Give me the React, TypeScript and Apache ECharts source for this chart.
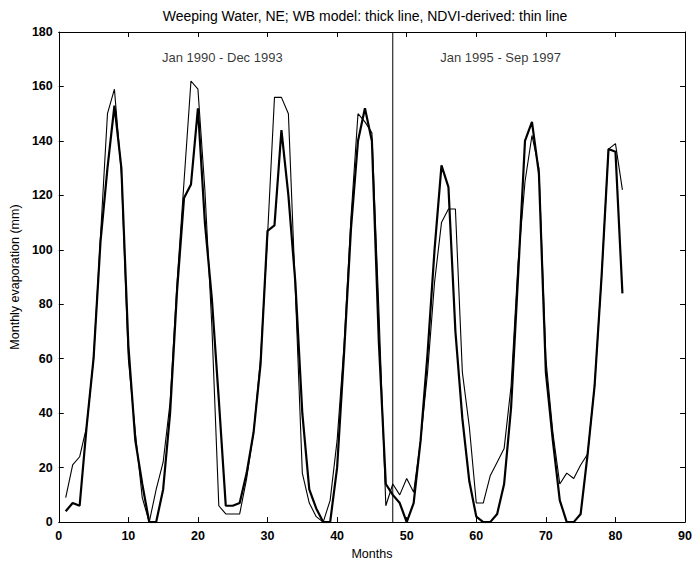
import React, { useEffect, useRef } from "react";
import * as echarts from "echarts";

const months: number[] = Array.from({ length: 81 }, (_, i) => i + 1);

// WB model (thick line)
const wbModel: number[] = [
  4, 7, 6, 35, 60, 103, 130, 153, 130, 65, 30, 14, 0, 0, 12, 40, 85, 119, 124, 152,
  110, 82, 45, 6, 6, 7, 18, 33, 58, 107, 109, 144, 120, 88, 40, 12, 5, 0, 0, 20,
  62, 108, 140, 152, 140, 66, 14, 10,
  7, 0, 7, 30, 62, 100, 131, 123, 70, 38, 15, 2, 0, 0, 3, 14, 42, 90, 140, 147,
  128, 55, 30, 8, 0, 0, 3, 25, 50, 90, 137, 136, 84,
];

// NDVI-derived (thin line)
const ndviDerived: number[] = [
  9, 21, 24, 35, 60, 105, 150, 159, 128, 60, 33, 9, 0, 12, 22, 44, 88, 125, 162, 159,
  122, 72, 6, 3, 3, 3, 16, 33, 60, 105, 156, 156, 150, 85, 18, 7, 2, 0, 8, 30,
  65, 112, 150, 147, 143, 78, 6, 14,
  10, 16, 11, 30, 55, 88, 110, 115, 115, 55, 35, 7, 7, 17, 22, 27, 50, 95, 125, 142,
  130, 60, 33, 14, 18, 16, 21, 25, 50, 90, 137, 139, 122,
];

const dividerX = 48;
const periodLabels: string[] = ["Jan 1990 - Dec 1993", "Jan 1995 - Sep 1997"];
const periodLabelX: number[] = [23.5, 63.5];
const periodLabelY = 170.5;

const titleText = "Weeping Water, NE; WB model: thick line, NDVI-derived: thin line";
const xName = "Months";
const yName = "Monthly evaporation (mm)";

export default function App() {
  const ref = useRef<HTMLDivElement>(null);
  useEffect(() => {
    if (!ref.current) return;
    const chart = echarts.init(ref.current, undefined, { renderer: "svg" });
    const font = "Liberation Sans, Arial, sans-serif";
    const axisCommon = {
      type: "value" as const,
      axisLine: { show: true, onZero: false, lineStyle: { color: "#000", width: 1 } },
      axisTick: { show: true, inside: true, length: 5, lineStyle: { color: "#000" } },
      splitLine: { show: false },
    };
    chart.setOption({
      animation: false,
      backgroundColor: "#fff",
      title: {
        text: titleText,
        left: 360,
        top: 4,
        textAlign: "center",
        textStyle: { fontFamily: font, fontSize: 14, fontWeight: "normal", color: "#000" },
      },
      grid: { left: 55, right: 9, top: 32, bottom: 34, containLabel: false },
      xAxis: [
        {
          ...axisCommon,
          min: 0,
          max: 90,
          interval: 10,
          position: "bottom",
          name: xName,
          nameLocation: "middle",
          nameGap: 20,
          nameTextStyle: { fontFamily: font, fontSize: 12.5, color: "#000" },
          axisLabel: { fontFamily: font, fontSize: 12.5, fontWeight: "bold", color: "#000", margin: 7 },
        },
        {
          ...axisCommon,
          min: 0,
          max: 90,
          interval: 10,
          position: "top",
          axisLabel: { show: false },
        },
      ],
      yAxis: [
        {
          ...axisCommon,
          min: 0,
          max: 180,
          interval: 20,
          position: "left",
          name: yName,
          nameLocation: "middle",
          nameGap: 32,
          nameTextStyle: { fontFamily: font, fontSize: 12.5, color: "#000" },
          axisLabel: { fontFamily: font, fontSize: 12.5, fontWeight: "bold", color: "#000", margin: 6 },
        },
        {
          ...axisCommon,
          min: 0,
          max: 180,
          interval: 20,
          position: "right",
          axisLabel: { show: false },
        },
      ],
      series: [
        {
          name: "NDVI-derived",
          type: "line",
          data: months.map((m, i) => [m, ndviDerived[i]]),
          symbol: "none",
          lineStyle: { color: "#000", width: 1.1 },
          z: 3,
        },
        {
          name: "WB model",
          type: "line",
          data: months.map((m, i) => [m, wbModel[i]]),
          symbol: "none",
          lineStyle: { color: "#000", width: 2.2 },
          z: 4,
        },
        {
          name: "divider",
          type: "line",
          data: [
            [dividerX, 0],
            [dividerX, 180],
          ],
          symbol: "none",
          lineStyle: { color: "#000", width: 1 },
          z: 2,
        },
        {
          name: "labels",
          type: "scatter",
          symbolSize: 0,
          data: periodLabels.map((t, i) => ({ value: [periodLabelX[i], periodLabelY], name: t })),
          label: {
            show: true,
            position: "inside",
            formatter: (p: any) => p.name,
            fontFamily: font,
            fontSize: 13,
            color: "#000",
          },
          z: 5,
        },
      ],
    });
    return () => chart.dispose();
  }, []);
  return (
    <div
      ref={ref}
      style={{ position: "fixed", left: 0, top: 0, width: 695, height: 565 }}
    />
  );
}
